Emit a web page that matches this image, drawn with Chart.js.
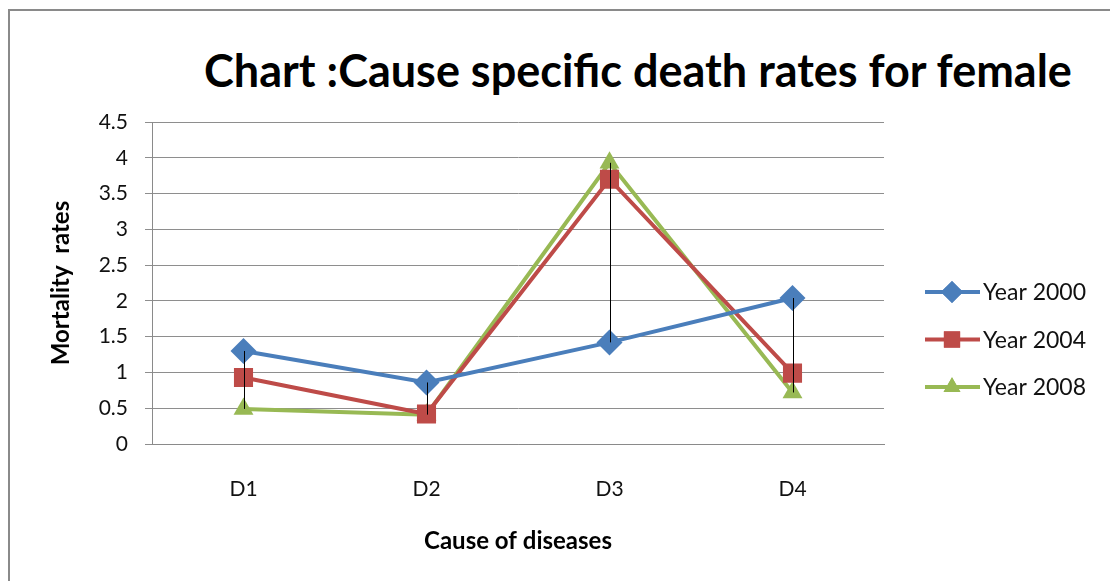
<!DOCTYPE html>
<html>
<head>
<meta charset="utf-8">
<script src="https://cdn.jsdelivr.net/npm/chart.js@4.4.1/dist/chart.umd.min.js"></script>
<style>
    html, body { margin: 0; padding: 0; background: #fff; overflow: hidden; }
    #wrap { position: relative; width: 1110px; height: 581px; }
    #frame { position: absolute; left: 8px; top: 9px; width: 1200px; height: 700px; border: 2px solid #8a8a8a; box-sizing: border-box; }
    #title { position: absolute; left: 0; top: 48px; width: 1276px; text-align: center; font: bold 45px/45px Lato, sans-serif; color: #000; white-space: nowrap; }
    canvas { position: absolute; left: 0; top: 0; }
</style>
</head>
<body>
<div id="wrap">
    <div id="frame"></div>
    <div id="title">Chart :Cause specific death rates for female</div>
    <canvas id="chart" width="1110" height="581"></canvas>
</div>
<script>
// dados
const categories = ['D1', 'D2', 'D3', 'D4'];
const year2000 = [1.30, 0.86, 1.42, 2.04];
const year2004 = [0.93, 0.42, 3.70, 0.99];
const year2008 = [0.49, 0.41, 3.93, 0.72];
const seriesNames = ['Year 2000', 'Year 2004', 'Year 2008'];
const yTicks = [0, 0.5, 1, 1.5, 2, 2.5, 3, 3.5, 4, 4.5];

const FONT = 'Lato, sans-serif';

// linhas máximo-mínimo (pretas) em cada categoria
const highLowLines = {
    id: 'highLowLines',
    afterDatasetsDraw(chart) {
        const { ctx, scales: { x, y } } = chart;
        ctx.save();
        ctx.strokeStyle = '#000';
        ctx.lineWidth = 1;
        categories.forEach((c, i) => {
            const vals = chart.data.datasets.map(d => d.data[i]);
            const px = Math.round(x.getPixelForValue(i)) + 0.5;
            ctx.beginPath();
            ctx.moveTo(px, y.getPixelForValue(Math.max(...vals)));
            ctx.lineTo(px, y.getPixelForValue(Math.min(...vals)));
            ctx.stroke();
        });
        ctx.restore();
    }
};

// legenda à direita: linha + marcador + texto
const sideLegend = {
    id: 'sideLegend',
    afterDraw(chart) {
        const { ctx, chartArea } = chart;
        const x0 = chartArea.right + 41;
        ctx.save();
        chart.data.datasets.forEach((ds, i) => {
            const yy = 292 + i * 47.5;
            ctx.strokeStyle = ds.borderColor;
            ctx.lineWidth = 4;
            ctx.beginPath();
            ctx.moveTo(x0, yy);
            ctx.lineTo(x0 + 55, yy);
            ctx.stroke();
            ctx.fillStyle = ds.borderColor;
            Chart.helpers.drawPoint(ctx, { pointStyle: ds.pointStyle, radius: ds.pointRadius * 0.85, rotation: 0 }, x0 + 27, yy);
            ctx.fill();
            ctx.fillStyle = '#111';
            ctx.font = '23px ' + FONT;
            ctx.textBaseline = 'middle';
            ctx.fillText(ds.label, x0 + 58, yy + 1);
        });
        ctx.restore();
    }
};

const mk = (label, data, color, style, r) => ({
    label, data,
    borderColor: color,
    backgroundColor: color,
    borderWidth: 4,
    pointStyle: style,
    pointRadius: r,
    pointHoverRadius: r,
    pointBorderWidth: 0,
    tension: 0
});

new Chart(document.getElementById('chart').getContext('2d'), {
    type: 'line',
    data: {
        labels: categories,
        datasets: [
            mk(seriesNames[0], year2000, '#4a7ebb', 'rectRot', 13),
            mk(seriesNames[1], year2004, '#be4b48', 'rect', 13.5),
            mk(seriesNames[2], year2008, '#98b954', 'triangle', 11.5)
        ]
    },
    options: {
        responsive: false,
        animation: false,
        events: [],
        layout: { padding: { left: 0, right: 226, top: 122, bottom: 0 } },
        plugins: { legend: { display: false }, title: { display: false }, tooltip: { enabled: false } },
        scales: {
            x: {
                offset: true,
                grid: { display: false },
                border: { display: true, color: '#8a8a8a', width: 1 },
                ticks: { color: '#111', font: { family: FONT, size: 21 }, padding: 25 },
                title: { display: true, text: 'Cause of diseases', color: '#000', font: { family: FONT, size: 24, weight: 'bold' }, padding: { top: 0, bottom: 25 } },
                afterFit: s => { s.height = 137; }
            },
            y: {
                min: 0, max: 4.5,
                afterBuildTicks: s => { s.ticks = yTicks.map(v => ({ value: v })); },
                grid: { color: '#8e8e8e', lineWidth: 1, tickLength: 7, drawTicks: true },
                border: { display: true, color: '#8a8a8a', width: 1 },
                ticks: { color: '#111', font: { family: FONT, size: 21 }, padding: 17, callback: v => String(v) },
                title: { display: true, text: 'Mortality  rates', color: '#000', font: { family: FONT, size: 24, weight: 'bold' }, padding: { top: 47, bottom: 0 } },
                afterFit: s => { s.width = 152; }
            }
        }
    },
    plugins: [highLowLines, sideLegend]
});
</script>
</body>
</html>
